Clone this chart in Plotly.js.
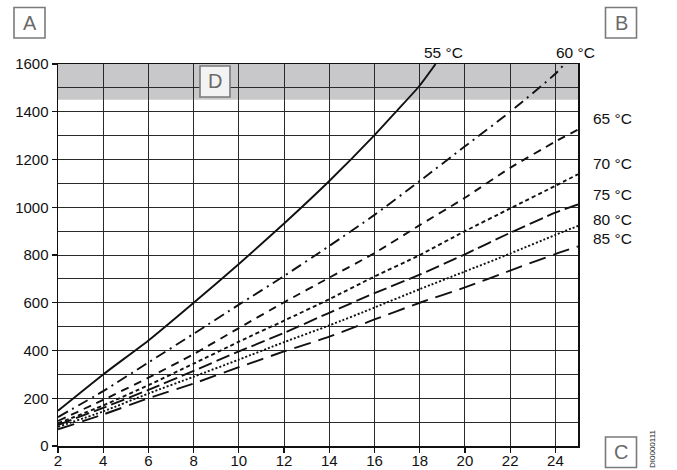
<!DOCTYPE html>
<html>
<head>
<meta charset="utf-8">
<script src="https://cdn.plot.ly/plotly-3.0.1.min.js"></script>
<style>html,body{margin:0;padding:0;background:#fff;}#chart{width:677px;height:470px;}</style>
</head>
<body>
<div id="chart"></div>
<script>
// Data
const xFull = [2, 4, 6, 8, 10, 12, 14, 16, 18, 20, 22, 24, 25];
const x55 = [2, 4, 6, 8, 10, 12, 14, 16, 17, 18, 18.7];
const x60 = [2, 4, 6, 8, 10, 12, 14, 16, 18, 20, 22, 24, 24.4];
const y55 = [148, 300, 442, 600, 762, 932, 1110, 1302, 1405, 1510, 1600];
const y60 = [121, 230, 350, 470, 592, 712, 838, 968, 1110, 1255, 1400, 1559, 1600];
const y65 = [105, 193, 286, 385, 494, 602, 705, 808, 925, 1040, 1165, 1275, 1325];
const y70 = [95, 170, 255, 345, 437, 525, 615, 710, 800, 900, 995, 1090, 1138];
const y75 = [88, 160, 235, 315, 396, 474, 558, 640, 718, 803, 893, 977, 1012];
const y80 = [80, 145, 220, 290, 362, 435, 505, 580, 657, 731, 806, 884, 922];
const y85 = [70, 132, 200, 262, 330, 396, 458, 530, 600, 664, 735, 804, 836];
const curveLabels = ["55 °C", "60 °C", "65 °C", "70 °C", "75 °C", "80 °C", "85 °C"];
const xTicks = [2, 4, 6, 8, 10, 12, 14, 16, 18, 20, 22, 24];
const yTicks = [0, 200, 400, 600, 800, 1000, 1200, 1400, 1600];
const bandRange = [1450, 1600];

const FONT = "Arial, 'Liberation Sans', sans-serif";
const LC = "#111";
const LW = 1.9;
function tr(x, y, dash) {
  return {x: x, y: y, type: "scatter", mode: "lines", hoverinfo: "skip",
    line: {color: LC, width: LW, dash: dash, shape: "spline", smoothing: 0.6}};
}
const data = [
  tr(x55, y55, "solid"),
  tr(x60, y60, "11px,5px,2px,5px"),
  tr(xFull, y65, "8px,6px"),
  tr(xFull, y70, "4px,3px"),
  tr(xFull, y75, "14px,5px"),
  tr(xFull, y80, "2px,2px"),
  tr(xFull, y85, "17px,8px")
];

// plot area: left 58, right 578, top 64, bottom 446
const L = 58, R = 578, T = 64, B = 446;
const px = v => (v - L) / (R - L);
const py = v => (B - v) / (B - T);

function box(x0, x1, y0, y1, fill) {
  return {type: "rect", xref: "paper", yref: "paper", x0: px(x0), x1: px(x1), y0: py(y1), y1: py(y0),
    line: {color: "#7a7a7a", width: 1.6}, fillcolor: fill, layer: "above"};
}
function letter(t, cx, cy) {
  return {text: t, xref: "paper", yref: "paper", x: px(cx), y: py(cy), xanchor: "center", yanchor: "middle",
    showarrow: false, font: {family: FONT, size: 20, color: "#6a6a6a"}};
}
function clabel(t, x, y, xanchor) {
  return {text: t, xref: "paper", yref: "paper", x: px(x), y: py(y), xanchor: xanchor, yanchor: "middle",
    showarrow: false, font: {family: FONT, size: 15.5, color: "#111"}};
}

const layout = {
  width: 677, height: 470,
  margin: {l: L, r: 677 - R, t: T, b: 470 - B, pad: 0},
  paper_bgcolor: "#fff", plot_bgcolor: "#fff",
  showlegend: false,
  font: {family: FONT, size: 15, color: "#111"},
  xaxis: {range: [2, 25], tickvals: xTicks, ticktext: xTicks.map(String),
    showgrid: true, gridcolor: "#2a2a2a", gridwidth: 1,
    showline: true, linecolor: "#111", linewidth: 1.5, mirror: true,
    ticks: "outside", ticklen: 5, tickcolor: "#111", tickwidth: 1.2,
    ticklabelstandoff: -5,
    tickfont: {family: FONT, size: 15, color: "#111"}, zeroline: false, fixedrange: true},
  yaxis: {range: [0, 1600], tickvals: yTicks, ticktext: yTicks.map(String),
    showgrid: true, gridcolor: "#2a2a2a", gridwidth: 1,
    minor: {dtick: 100, tick0: 0, showgrid: true, gridcolor: "#2a2a2a", gridwidth: 1, ticks: ""},
    showline: true, linecolor: "#111", linewidth: 1.5, mirror: true,
    ticks: "outside", ticklen: 5, tickcolor: "#111", tickwidth: 1.2,
    tickfont: {family: FONT, size: 15, color: "#111"}, zeroline: false, fixedrange: true},
  shapes: [
    {type: "rect", xref: "paper", yref: "y", x0: 0, x1: 1, y0: bandRange[0], y1: bandRange[1],
     fillcolor: "#c8c8ca", line: {width: 0}, layer: "below"},
    box(14, 45, 7.5, 38, "#fff"),
    box(605.5, 636.5, 7.5, 38, "#fff"),
    box(605.5, 636.5, 437, 467.5, "#fff"),
    box(200, 230, 66, 97, "#f3f3f3")
  ],
  annotations: [
    letter("A", 29.5, 23),
    letter("B", 621, 23),
    letter("C", 621, 452),
    letter("D", 215, 81.5),
    clabel(curveLabels[0], 443, 52, "center"),
    clabel(curveLabels[1], 575, 52, "center"),
    clabel(curveLabels[2], 591, 118, "left"),
    clabel(curveLabels[3], 591, 163, "left"),
    clabel(curveLabels[4], 591, 195, "left"),
    clabel(curveLabels[5], 591, 219, "left"),
    clabel(curveLabels[6], 591, 239, "left"),
    {text: "DI0000111", xref: "paper", yref: "paper", x: px(652), y: py(449), textangle: -90,
     xanchor: "center", yanchor: "middle", showarrow: false,
     font: {family: FONT, size: 8, color: "#222"}}
  ]
};

Plotly.newPlot("chart", data, layout, {staticPlot: true, displayModeBar: false});
</script>
</body>
</html>
